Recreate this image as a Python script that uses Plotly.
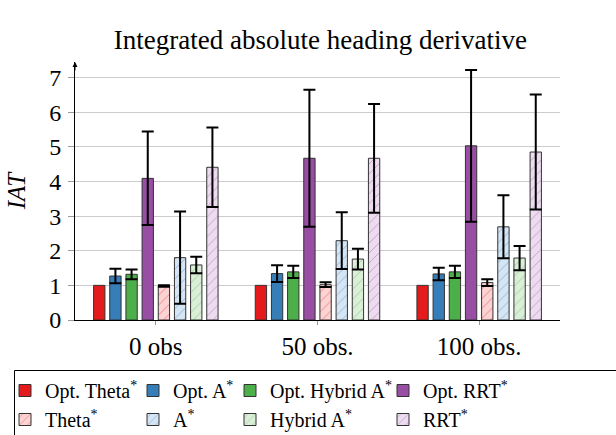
import plotly.graph_objects as go

groups = ["0 obs", "50 obs.", "100 obs."]

series_names = ["Opt. Theta<sup>*</sup>", "Opt. A<sup>*</sup>", "Opt. Hybrid A<sup>*</sup>", "Opt. RRT<sup>*</sup>",
                "Theta<sup>*</sup>", "A<sup>*</sup>", "Hybrid A<sup>*</sup>", "RRT<sup>*</sup>"]

opt_theta = [1.0, 1.0, 1.0]
opt_theta_err = [0.0, 0.0, 0.0]
opt_astar = [1.27, 1.34, 1.33]
opt_astar_err = [0.21, 0.24, 0.18]
opt_hybrid = [1.32, 1.39, 1.39]
opt_hybrid_err = [0.14, 0.18, 0.18]
opt_rrt = [4.09, 4.67, 5.03]
opt_rrt_err = [1.35, 1.98, 2.19]
theta = [0.98, 1.02, 1.08]
theta_err = [0.02, 0.07, 0.10]
astar = [1.80, 2.29, 2.69]
astar_err = [1.33, 0.82, 0.91]
hybrid = [1.59, 1.76, 1.79]
hybrid_err = [0.24, 0.30, 0.35]
rrt = [4.41, 4.67, 4.85]
rrt_err = [1.15, 1.57, 1.66]

values = [opt_theta, opt_astar, opt_hybrid, opt_rrt, theta, astar, hybrid, rrt]
errors = [opt_theta_err, opt_astar_err, opt_hybrid_err, opt_rrt_err, theta_err, astar_err, hybrid_err, rrt_err]

colors = ["#e41a1c", "#377eb8", "#4daf4a", "#984ea3"]
pale = ["#fcd3d3", "#d5e5f3", "#dbefd8", "#eddcf0"]

FONT = "Liberation Serif"

# plot area geometry (px) used to place legend columns
L, R, T, B = 75, 56, 62, 115
PW, PH = 616 - L - R, 435 - T - B


def px_x(p):
    return (p - L) / PW


def px_y(p):
    return (435 - B - p) / PH


legend_names = ["legend", "legend2", "legend3", "legend4"]
legend_cols_px = [5, 133, 230, 383]

fig = go.Figure()
for i, (name, v, e) in enumerate(zip(series_names, values, errors)):
    c = colors[i % 4]
    if i < 4:
        marker = dict(color=c, line=dict(color="#333333", width=1))
    else:
        marker = dict(color=pale[i % 4], line=dict(color="#333333", width=1),
                      pattern=dict(shape="/", fgcolor=c, bgcolor=pale[i % 4], size=7, solidity=0.12))
    show_err = any(x > 0 for x in e)
    fig.add_trace(go.Bar(
        x=groups, y=v, name=name, marker=marker, legend=legend_names[i % 4],
        error_y=dict(type="data", array=e, visible=show_err, color="black", thickness=2, width=6),
    ))

legend_common = dict(orientation="v", xanchor="left", yanchor="top", y=px_y(371),
                     bgcolor="rgba(0,0,0,0)", borderwidth=0, font=dict(size=20, family=FONT),
                     traceorder="normal", tracegroupgap=0)
lay = dict(
    width=616, height=435,
    barmode="group", bargap=0.2, bargroupgap=0.3,
    plot_bgcolor="white", paper_bgcolor="white",
    margin=dict(l=L, r=R, t=T, b=B, autoexpand=False),
    font=dict(family=FONT, color="black"),
    title=dict(text="Integrated absolute heading derivative", xref="paper", x=0.506, xanchor="center",
               yref="container", y=1 - 40 / 435, yanchor="middle", font=dict(size=27, family=FONT)),
    showlegend=True,
    xaxis=dict(showline=True, linecolor="black", linewidth=1, ticks="outside", tickcolor="#999999",
               ticklen=4, tickfont=dict(size=25, family=FONT), range=[-0.5, 2.5]),
    yaxis=dict(range=[0, 7.45], showline=True, linecolor="black", linewidth=1, ticks="outside",
               tickcolor="#999999", ticklen=6, tickvals=[0, 1, 2, 3, 4, 5, 6, 7],
               showgrid=True, gridcolor="#cccccc", gridwidth=1, zeroline=False,
               tickfont=dict(size=24, family=FONT), ticklabelstandoff=2,
               title=dict(text="<i>IAT</i>", font=dict(size=25, family=FONT), standoff=16)),
)
for ln, cx in zip(legend_names, legend_cols_px):
    lay[ln] = dict(legend_common, x=px_x(cx))
fig.update_layout(**lay)

# legend frame
fig.add_shape(type="rect", xref="paper", yref="paper", x0=px_x(14.5), x1=px_x(640),
              y0=px_y(370.5), y1=px_y(460), line=dict(color="black", width=1), fillcolor="rgba(0,0,0,0)")

fig.add_annotation(x=0, y=7.45, xref="paper", yref="y", ax=0, ay=10, showarrow=True,
                   arrowhead=2, arrowsize=1, arrowwidth=1, arrowcolor="black", text="")

fig.write_html("out.html", config={"displayModeBar": False},
               post_script="document.body.style.margin='0';document.body.style.overflow='hidden';")
